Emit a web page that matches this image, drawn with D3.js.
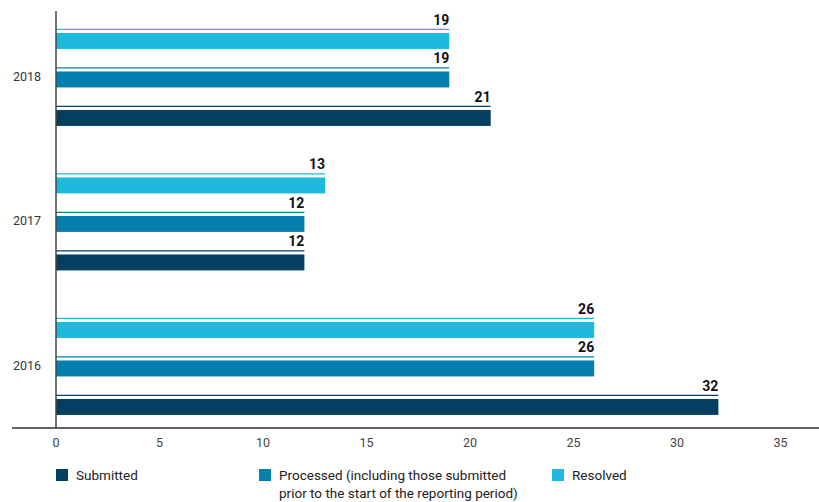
<!DOCTYPE html>
<html>
<head>
<meta charset="utf-8">
<script src="https://cdn.jsdelivr.net/npm/d3@7"></script>
<style>
  body { margin: 0; background: #fff; }
  text { font-family: "Liberation Sans Narrow", "Arial Narrow", "Roboto", sans-serif; }
</style>
</head>
<body>
<svg id="svg" width="819" height="502"></svg>
<script>
const width = 819;
const height = 502;

const years = ['2018', '2017', '2016'];
const seriesNames = ['Resolved', 'Processed', 'Submitted'];
const submitted = [21, 12, 32];
const processed = [19, 12, 26];
const resolved = [19, 13, 26];
const xTicks = [0, 5, 10, 15, 20, 25, 30, 35];

const colors = {
	Submitted: '#023f61',
	Processed: '#0580ae',
	Resolved: '#1ebade'
};

const legendItems = [
	{ name: 'Submitted', lines: ['Submitted'], x: 56 },
	{ name: 'Processed', lines: ['Processed (including those submitted', 'prior to the start of the reporting period)'], x: 259 },
	{ name: 'Resolved', lines: ['Resolved'], x: 552 }
];

const rows = years.map((y, i) => ({
	year: y,
	Submitted: submitted[i],
	Processed: processed[i],
	Resolved: resolved[i]
}));

const svg = d3.select('#svg');

const xScale = d3.scaleLinear()
	.domain([0, 35])
	.range([56, 780.5]);

const yScale = d3.scaleBand()
	.domain(years)
	.range([7, 440.5]);

const innerScale = d3.scaleBand()
	.domain(seriesNames)
	.range([14.7, 130.2])
	.paddingInner(0.585)
	.paddingOuter(0.2925);

const baseY = 428;

// bars
const groups = svg.selectAll(null)
	.data(rows)
	.enter()
	.append('g')
	.attr('transform', d => 'translate(0,' + yScale(d.year) + ')');

const bars = groups.selectAll(null)
	.data(d => seriesNames.map(s => ({ key: s, value: d[s] })))
	.enter();

bars.append('rect')
	.attr('x', xScale(0))
	.attr('y', d => innerScale(d.key))
	.attr('width', d => xScale(d.value) - xScale(0))
	.attr('height', innerScale.bandwidth())
	.attr('fill', d => colors[d.key]);

bars.append('line')
	.attr('x1', xScale(0))
	.attr('x2', d => xScale(d.value))
	.attr('y1', d => innerScale(d.key) - 3.5)
	.attr('y2', d => innerScale(d.key) - 3.5)
	.attr('stroke', d => colors[d.key])
	.attr('stroke-width', 1.3);

bars.append('text')
	.attr('x', d => xScale(d.value))
	.attr('y', d => innerScale(d.key) - 8)
	.attr('text-anchor', 'end')
	.attr('font-size', 14)
	.attr('font-weight', 'bold')
	.attr('fill', '#111')
	.text(d => d.value);

// y axis
svg.append('line')
	.attr('x1', xScale(0)).attr('x2', xScale(0))
	.attr('y1', 11).attr('y2', baseY)
	.attr('stroke', '#444')
	.attr('stroke-width', 1.5);

svg.selectAll(null)
	.data(years)
	.enter()
	.append('text')
	.attr('x', 41)
	.attr('y', d => yScale(d) + innerScale('Processed') + innerScale.bandwidth() / 2 - 2)
	.attr('text-anchor', 'end')
	.attr('dominant-baseline', 'middle')
	.attr('font-size', 12.5)
	.attr('fill', '#333')
	.text(d => d);

// x axis
svg.append('line')
	.attr('x1', 12).attr('x2', width)
	.attr('y1', baseY).attr('y2', baseY)
	.attr('stroke', '#333')
	.attr('stroke-width', 1.5);

svg.selectAll(null)
	.data(xTicks)
	.enter()
	.append('text')
	.attr('x', d => xScale(d))
	.attr('y', 447)
	.attr('text-anchor', 'middle')
	.attr('font-size', 12.5)
	.attr('fill', '#444')
	.text(d => d);

// legend
const legend = svg.selectAll(null)
	.data(legendItems)
	.enter()
	.append('g')
	.attr('transform', d => 'translate(' + d.x + ',469)');

legend.append('rect')
	.attr('width', 12)
	.attr('height', 12)
	.attr('fill', d => colors[d.name]);

legend.append('text')
	.attr('x', 20)
	.attr('y', 11)
	.attr('font-size', 13.5)
	.attr('fill', '#222')
	.selectAll('tspan')
	.data(d => d.lines)
	.enter()
	.append('tspan')
	.attr('x', 20)
	.attr('dy', (d, i) => i === 0 ? 0 : 18)
	.text(d => d);
</script>
</body>
</html>
